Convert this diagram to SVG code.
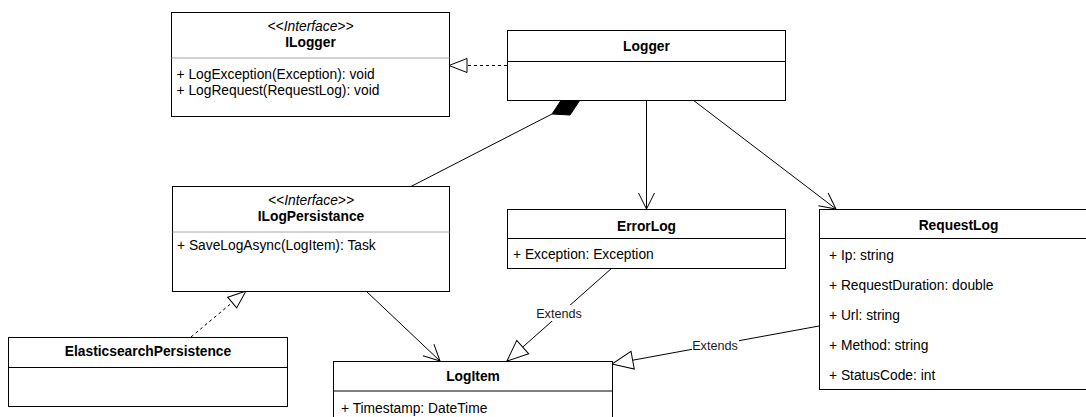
<svg xmlns="http://www.w3.org/2000/svg" width="1086" height="417" viewBox="0 0 1086 417">
  <style>
    .box { fill: #ffffff; stroke: #000000; stroke-width: 1; }
    .sep { stroke: #000000; stroke-width: 1; }
    .sep-light { stroke: #a6a6a6; stroke-width: 1; }
    .title { font-family: "Liberation Sans", Arial, sans-serif; font-size: 13.8px; font-weight: bold; fill: #000000; text-anchor: middle; }
    .stereo { font-family: "Liberation Sans", Arial, sans-serif; font-size: 13.8px; font-style: italic; fill: #000000; text-anchor: middle; }
    .member { font-family: "Liberation Sans", Arial, sans-serif; font-size: 13.8px; fill: #000000; }
    .edge { fill: none; stroke: #000000; stroke-width: 1; }
    .dashed { stroke-dasharray: 3 3; }
    .label { font-family: "Liberation Sans", Arial, sans-serif; font-size: 12.65px; fill: #1a1a1a; text-anchor: middle; }
  </style>
  <defs>
    <!-- open navigable-association arrow -->
    <marker id="open-arrow" viewBox="-18 -10 20 20" refX="0" refY="0" markerWidth="20" markerHeight="20" markerUnits="userSpaceOnUse" orient="auto" overflow="visible">
      <path d="M -16 -8 L 0 0 L -16 8" fill="none" stroke="#000000" stroke-width="1"/>
    </marker>
    <!-- hollow triangle for generalization -->
    <marker id="extends" viewBox="-23 -11 25 22" refX="0" refY="0" markerWidth="25" markerHeight="22" markerUnits="userSpaceOnUse" orient="auto" overflow="visible">
      <path d="M 0 0 L -21 -9 L -21 9 Z" fill="#ffffff" stroke="#000000" stroke-width="1"/>
    </marker>
    <!-- smaller hollow triangle for interface realization -->
    <marker id="realizes" viewBox="-20 -9 22 18" refX="0" refY="0" markerWidth="22" markerHeight="18" markerUnits="userSpaceOnUse" orient="auto" overflow="visible">
      <path d="M 0 0 L -18 -7 L -18 7 Z" fill="#ffffff" stroke="#000000" stroke-width="1"/>
    </marker>
  </defs>

  <g id="connectors">
    <!-- Logger realizes ILogger -->
    <path class="edge dashed" d="M 507 65.5 L 449 65.5" marker-end="url(#realizes)"/>
    <!-- Logger composes ILogPersistance -->
    <path class="edge" d="M 410 187 L 552 114"/>
    <polygon points="580,100 570,115 552,114 562,99" fill="#000000" stroke="#000000" stroke-width="1"/>
    <!-- Logger uses ErrorLog / RequestLog -->
    <path class="edge" d="M 646.5 100 L 646.5 209" marker-end="url(#open-arrow)"/>
    <path class="edge" d="M 693 100 L 836 209" marker-end="url(#open-arrow)"/>
    <!-- ILogPersistance uses LogItem -->
    <path class="edge" d="M 366 291 L 440 361" marker-end="url(#open-arrow)"/>
    <!-- ElasticsearchPersistence realizes ILogPersistance -->
    <path class="edge dashed" d="M 191 337 L 246 291" marker-end="url(#realizes)"/>
    <!-- ErrorLog extends LogItem -->
    <path class="edge" d="M 612 268 L 507 361" marker-end="url(#extends)"/>
    <rect x="535" y="305" width="48" height="16" fill="#ffffff"/>
    <text class="label" x="559" y="318">Extends</text>
    <!-- RequestLog extends LogItem -->
    <path class="edge" d="M 819 326 L 612 364" marker-end="url(#extends)"/>
    <rect x="692" y="338" width="47" height="14" fill="#ffffff"/>
    <text class="label" x="715" y="350">Extends</text>
  </g>

  <g id="ILogger">
    <rect class="box" x="171.5" y="12.5" width="278" height="104"/>
    <line class="sep-light" x1="171.5" y1="58" x2="449.5" y2="58"/>
    <text class="stereo" x="310.5" y="30.5">&lt;&lt;Interface&gt;&gt;</text>
    <text class="title" x="310.5" y="46.5">ILogger</text>
    <text class="member" x="176.5" y="78.5">+ LogException(Exception): void</text>
    <text class="member" x="176.5" y="95">+ LogRequest(RequestLog): void</text>
  </g>

  <g id="Logger">
    <rect class="box" x="507.5" y="30.5" width="278" height="70"/>
    <line class="sep" x1="507.5" y1="61.5" x2="785.5" y2="61.5"/>
    <text class="title" x="646.5" y="51">Logger</text>
  </g>

  <g id="ILogPersistance">
    <rect class="box" x="172.5" y="186.5" width="277" height="105"/>
    <line class="sep-light" x1="172.5" y1="232" x2="449.5" y2="232"/>
    <text class="stereo" x="311" y="204.5">&lt;&lt;Interface&gt;&gt;</text>
    <text class="title" x="311" y="221">ILogPersistance</text>
    <text class="member" x="177" y="250">+ SaveLogAsync(LogItem): Task</text>
  </g>

  <g id="ErrorLog">
    <rect class="box" x="507.5" y="209.5" width="278" height="59"/>
    <line class="sep" x1="507.5" y1="238.5" x2="785.5" y2="238.5"/>
    <text class="title" x="646.5" y="231">ErrorLog</text>
    <text class="member" x="513" y="259">+ Exception: Exception</text>
  </g>

  <g id="RequestLog">
    <rect class="box" x="819.5" y="209.5" width="278" height="180"/>
    <line class="sep" x1="819.5" y1="238.5" x2="1097.5" y2="238.5"/>
    <text class="title" x="958.5" y="230">RequestLog</text>
    <text class="member" x="829" y="260">+ Ip: string</text>
    <text class="member" x="829" y="290">+ RequestDuration: double</text>
    <text class="member" x="829" y="320">+ Url: string</text>
    <text class="member" x="829" y="350">+ Method: string</text>
    <text class="member" x="829" y="380">+ StatusCode: int</text>
  </g>

  <g id="ElasticsearchPersistence">
    <rect class="box" x="8.5" y="337.5" width="279" height="69"/>
    <line class="sep" x1="8.5" y1="367.5" x2="287.5" y2="367.5"/>
    <text class="title" x="148" y="356">ElasticsearchPersistence</text>
  </g>

  <g id="LogItem">
    <rect class="box" x="333.5" y="361.5" width="279" height="70"/>
    <line class="sep" x1="333.5" y1="391" x2="612.5" y2="391"/>
    <text class="title" x="473" y="381">LogItem</text>
    <text class="member" x="341" y="413">+ Timestamp: DateTime</text>
  </g>
</svg>
